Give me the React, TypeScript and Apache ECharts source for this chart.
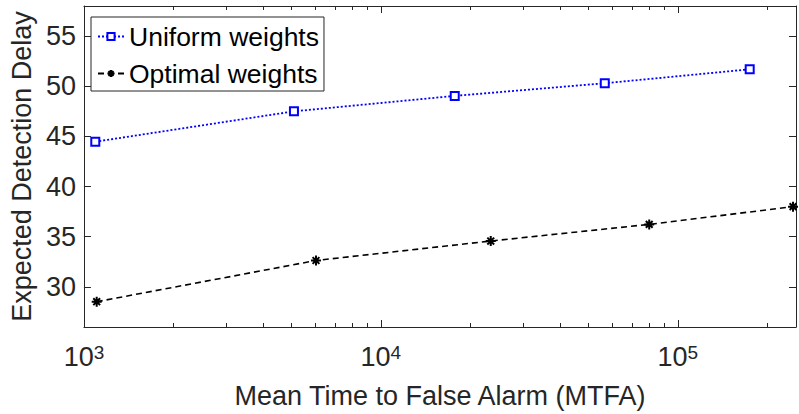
import React, { useEffect, useRef } from "react";
import * as echarts from "echarts";

const uniformX = [1092, 5096, 17730, 56750, 174600];
const uniformY = [44.47, 47.5, 49.04, 50.3, 51.69];
const optimalX = [1104, 6046, 23440, 80100, 244300];
const optimalY = [28.52, 32.63, 34.57, 36.23, 38.0];
const xMajorTicks = [1000, 10000, 100000];
const xMinorTicks = [
  2000, 3000, 4000, 5000, 6000, 7000, 8000, 9000,
  20000, 30000, 40000, 50000, 60000, 70000, 80000, 90000,
  200000,
];
const yTicks = [30, 35, 40, 45, 50, 55];
const X_MIN = 1000;
const X_MAX = 250000;
const Y_MIN = 26;
const Y_MAX = 58;

const AXIS = "#262626";
const FONT = "'Liberation Sans', Arial, Helvetica, sans-serif";
const ASTERISK = "path://M5 0L5 10M0 5L10 5M1.6 1.6L8.4 8.4M1.6 8.4L8.4 1.6";

export default function App() {
  const ref = useRef<HTMLDivElement>(null);
  useEffect(() => {
    if (!ref.current) return;
    const chart = echarts.init(ref.current, undefined, { renderer: "svg" });
    const xBase = {
      type: "log" as const,
      logBase: 10,
      min: X_MIN,
      max: X_MAX,
      splitLine: { show: false },
      axisLine: { show: true, lineStyle: { color: AXIS, width: 1 } },
    };
    const yBase = {
      type: "value" as const,
      min: Y_MIN,
      max: Y_MAX,
      splitLine: { show: false },
      axisLine: { show: true, lineStyle: { color: AXIS, width: 1 } },
    };
    chart.setOption({
      animation: false,
      textStyle: { fontFamily: FONT },
      grid: { left: 78, right: 3, top: 6, bottom: 86, containLabel: false },
      legend: {
        left: 91,
        top: 17,
        orient: "vertical",
        data: ["Uniform weights", "Optimal weights"],
        backgroundColor: "#fff",
        borderColor: AXIS,
        borderWidth: 1,
        borderRadius: 0,
        padding: [6, 5, 4, 6],
        itemWidth: 26,
        itemHeight: 9,
        itemGap: 10,
        textStyle: { fontSize: 26.5, color: "#000", fontFamily: FONT, lineHeight: 26 },
      },
      xAxis: [
        {
          ...xBase,
          position: "bottom",
          name: "Mean Time to False Alarm (MTFA)",
          nameLocation: "middle",
          nameGap: 55,
          nameTextStyle: { fontSize: 27, color: AXIS, fontFamily: FONT },
          axisTick: {
            show: true,
            inside: true,
            length: 7,
            customValues: xMajorTicks,
            lineStyle: { color: AXIS },
          },
          axisLabel: {
            show: true,
            customValues: xMajorTicks,
            margin: 16,
            color: AXIS,
            formatter: (v: number) => `{b|10}{s|${Math.round(Math.log10(v))}}`,
            rich: {
              b: { fontSize: 27, color: AXIS, fontFamily: FONT, verticalAlign: "bottom", lineHeight: 27, padding: [4, 0, 0, 0] },
              s: { fontSize: 19, color: AXIS, fontFamily: FONT, verticalAlign: "top", lineHeight: 19 },
            },
          },
        },
        {
          ...xBase,
          position: "top",
          axisTick: {
            show: true,
            inside: true,
            length: 7,
            customValues: xMajorTicks,
            lineStyle: { color: AXIS },
          },
          axisLabel: { show: false },
        },
      ],
      yAxis: [
        {
          ...yBase,
          position: "left",
          name: "Expected Detection Delay",
          nameLocation: "middle",
          nameGap: 44,
          nameTextStyle: { fontSize: 27, color: AXIS, fontFamily: FONT },
          axisTick: {
            show: true,
            inside: true,
            length: 7,
            customValues: yTicks,
            lineStyle: { color: AXIS },
          },
          axisLabel: {
            show: true,
            customValues: yTicks,
            margin: 8,
            fontSize: 27,
            color: AXIS,
            fontFamily: FONT,
          },
        },
        {
          ...yBase,
          position: "right",
          axisTick: {
            show: true,
            inside: true,
            length: 7,
            customValues: yTicks,
            lineStyle: { color: AXIS },
          },
          axisLabel: { show: false },
        },
      ],
      series: [
        {
          name: "minor",
          type: "custom",
          xAxisIndex: 0,
          yAxisIndex: 0,
          silent: true,
          clip: false,
          z: 1,
          data: xMinorTicks.map((v) => [v, Y_MIN]),
          encode: { x: 0, y: 1 },
          renderItem: (params: any, api: any) => {
            const p = api.coord([api.value(0), api.value(1)]);
            const cs = params.coordSys;
            const x = Math.round(p[0]) + 0.5;
            return {
              type: "group",
              children: [
                {
                  type: "line",
                  shape: { x1: x, y1: cs.y + cs.height, x2: x, y2: cs.y + cs.height - 4 },
                  style: { stroke: AXIS, lineWidth: 1 },
                },
                {
                  type: "line",
                  shape: { x1: x, y1: cs.y, x2: x, y2: cs.y + 4 },
                  style: { stroke: AXIS, lineWidth: 1 },
                },
              ],
            };
          },
        },
        {
          name: "Uniform weights",
          type: "line",
          xAxisIndex: 0,
          yAxisIndex: 0,
          data: uniformX.map((x, i) => [x, uniformY[i]]),
          symbol: "emptyRect",
          symbolSize: 8,
          showAllSymbol: true,
          z: 3,
          lineStyle: { color: "#0000ff", width: 1.8, type: [2, 2] },
          itemStyle: { color: "#0000ff", borderColor: "#0000ff", borderWidth: 2 },
        },
        {
          name: "Optimal weights",
          type: "line",
          xAxisIndex: 0,
          yAxisIndex: 0,
          data: optimalX.map((x, i) => [x, optimalY[i]]),
          symbol: ASTERISK,
          symbolSize: 10,
          showAllSymbol: true,
          z: 3,
          lineStyle: { color: "#000", width: 1.6, type: [6, 4] },
          itemStyle: { color: "#000", borderColor: "#000", borderWidth: 2 },
        },
      ],
    });
    return () => chart.dispose();
  }, []);
  return (
    <div
      ref={ref}
      style={{ position: "fixed", left: 0, top: 0, width: 799, height: 414, background: "#fff" }}
    />
  );
}
